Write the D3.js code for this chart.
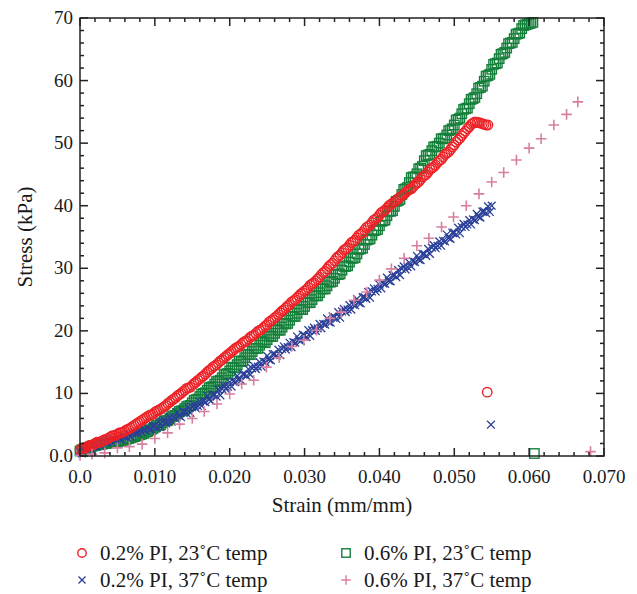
<!DOCTYPE html>
<html>
<head>
<meta charset="utf-8">
<script src="https://cdn.jsdelivr.net/npm/d3@7"></script>
<style>
	body { margin:0; background:#fff; }
	svg text { font-family:"Liberation Serif","Times New Roman",serif; fill:#1a1a1a; }
</style>
</head>
<body>
<svg id="svgelement" width="637" height="594"></svg>
<script>
	// strain readings shared by the three densely sampled tests (mm/mm)
	var strainGrid = [0,0.00025,0.0005,0.00075,0.001,0.00125,0.0015,0.00175,0.002,0.00225,0.0025,0.00275,0.003,0.00325,0.0035,0.00375,0.004,0.00425,0.0045,0.00475,
		0.005,0.00525,0.0055,0.00575,0.006,0.00625,0.0065,0.00675,0.007,0.00725,0.0075,0.00775,0.008,0.00825,0.0085,0.00875,0.009,0.00925,0.0095,0.00975,
		0.01,0.01025,0.0105,0.01075,0.011,0.01125,0.0115,0.01175,0.012,0.01225,0.0125,0.01275,0.013,0.01325,0.0135,0.01375,0.014,0.01425,0.0145,0.01475,
		0.015,0.01525,0.0155,0.01575,0.016,0.01625,0.0165,0.01675,0.017,0.01725,0.0175,0.01775,0.018,0.01825,0.0185,0.01875,0.019,0.01925,0.0195,0.01975,
		0.02,0.02025,0.0205,0.02075,0.021,0.02125,0.0215,0.02175,0.022,0.02225,0.0225,0.02275,0.023,0.02325,0.0235,0.02375,0.024,0.02425,0.0245,0.02475,
		0.025,0.02525,0.0255,0.02575,0.026,0.02625,0.0265,0.02675,0.027,0.02725,0.0275,0.02775,0.028,0.02825,0.0285,0.02875,0.029,0.02925,0.0295,0.02975,
		0.03,0.03025,0.0305,0.03075,0.031,0.03125,0.0315,0.03175,0.032,0.03225,0.0325,0.03275,0.033,0.03325,0.0335,0.03375,0.034,0.03425,0.0345,0.03475,
		0.035,0.03525,0.0355,0.03575,0.036,0.03625,0.0365,0.03675,0.037,0.03725,0.0375,0.03775,0.038,0.03825,0.0385,0.03875,0.039,0.03925,0.0395,0.03975,
		0.04,0.04025,0.0405,0.04075,0.041,0.04125,0.0415,0.04175,0.042,0.04225,0.0425,0.04275,0.043,0.04325,0.0435,0.04375,0.044,0.04425,0.0445,0.04475,
		0.045,0.04525,0.0455,0.04575,0.046,0.04625,0.0465,0.04675,0.047,0.04725,0.0475,0.04775,0.048,0.04825,0.0485,0.04875,0.049,0.04925,0.0495,0.04975,
		0.05,0.05025,0.0505,0.05075,0.051,0.05125,0.0515,0.05175,0.052,0.05225,0.0525,0.05275,0.053,0.05325,0.0535,0.05375,0.054,0.05425,0.0545,0.05475,
		0.055,0.05525,0.0555,0.05575,0.056,0.05625,0.0565,0.05675,0.057,0.05725,0.0575,0.05775,0.058,0.05825,0.0585,0.05875,0.059,0.05925,0.0595,0.05975,
		0.06,0.06025,0.0605];

	// 0.2% PI, 23C (red circles), stress in kPa along strainGrid
	var stressRed = [1.0,1.2,1.25,1.3,1.5,1.7,1.75,1.8,2.0,2.2,2.13,2.3,2.4,2.6,2.65,2.8,3.0,3.2,3.25,3.3,3.5,3.7,3.75,3.8,4.0,4.2,4.3,4.5,4.7,4.9,5.1,5.3,5.5,5.7,5.9,6.1,6.3,6.5,6.6,6.7,
		7.0,7.2,7.3,7.5,7.7,7.9,8.1,8.4,8.6,8.9,9.1,9.3,9.6,9.8,10.0,10.3,10.5,10.8,10.9,11.0,11.3,11.6,11.8,12.1,12.3,12.6,12.8,13.1,13.4,13.7,13.9,14.2,14.4,14.6,14.9,15.2,15.4,15.7,15.9,16.2,
		16.4,16.7,16.9,17.2,17.4,17.5,17.8,18.1,18.3,18.4,18.7,19.0,19.2,19.3,19.6,19.9,20.1,20.2,20.5,20.8,21.0,21.4,21.6,21.8,22.1,22.3,22.6,22.9,23.2,23.4,23.7,24.0,24.2,24.6,24.8,25.0,25.3,25.6,25.9,26.1,
		26.4,26.6,26.9,27.3,27.5,27.7,28.0,28.3,28.6,29.0,29.3,29.5,29.9,30.3,30.6,30.8,31.2,31.6,31.9,32.1,32.5,32.9,33.1,33.3,33.7,34.1,34.3,34.5,34.9,35.3,35.5,35.7,36.1,36.5,36.7,36.9,37.3,37.7,37.9,38.1,
		38.5,38.9,39.1,39.3,39.6,40.0,40.2,40.4,40.7,40.8,41.1,41.4,41.6,41.8,42.1,42.4,42.6,42.7,43.0,43.4,43.6,43.8,44.2,44.6,44.8,45.0,45.4,45.8,46.0,46.2,46.5,46.9,47.2,47.4,47.8,48.2,48.4,48.6,49.0,49.4,
		49.7,50.2,50.5,50.8,51.2,51.6,51.9,52.3,52.6,53.0,53.2,53.4,53.3,53.3,53.2,53.1,53.0,52.9,52.9];

	// 0.6% PI, 23C (green squares)
	var stressGreen = [0.8,1.0,1.1,1.2,1.3,1.4,1.5,1.6,1.7,1.8,1.8,1.9,1.9,2.0,2.0,2.1,2.1,2.2,2.2,2.2,2.3,2.4,2.4,2.5,2.6,2.7,2.8,2.9,3.0,3.1,3.2,3.3,3.4,3.5,3.6,3.8,3.9,4.1,4.2,4.4,
		4.6,4.9,4.9,5.0,5.3,5.6,5.6,5.7,6.0,6.3,6.4,6.5,6.8,7.1,7.2,7.3,7.6,7.9,8.0,8.1,8.5,8.9,9.0,9.1,9.5,9.9,10.0,10.1,10.5,10.9,11.0,11.1,11.5,11.9,12.0,12.1,12.5,13.0,13.1,13.2,
		13.6,14.2,14.1,14.1,14.6,15.2,15.1,15.2,15.7,16.2,16.2,16.2,16.7,17.2,17.2,17.2,17.7,18.3,18.2,18.1,18.6,19.2,19.1,19.1,19.6,20.2,20.1,20.1,20.6,21.2,21.1,21.2,21.7,22.3,22.3,22.3,22.8,23.4,23.4,23.4,
		23.9,24.5,24.5,24.5,25.0,25.6,25.6,25.6,26.1,26.7,26.7,26.7,27.2,27.8,27.8,27.9,28.4,29.0,29.0,29.1,29.7,30.3,30.3,30.4,31.0,31.6,31.6,31.7,32.3,33.0,33.1,33.2,33.8,34.5,34.6,34.7,35.3,36.0,36.1,36.2,
		36.8,37.5,37.6,37.7,38.4,39.1,39.1,39.2,39.9,40.7,40.8,41.0,41.8,42.6,42.7,42.9,43.7,44.5,44.6,44.6,45.1,45.9,46.0,46.3,47.2,48.0,48.1,48.2,48.8,49.4,49.4,49.5,50.0,50.7,50.7,50.8,51.3,52.0,52.1,52.3,
		52.9,53.7,53.8,54.0,54.7,55.4,55.5,55.6,56.3,57.0,57.1,57.3,57.9,58.8,58.9,59.1,59.9,60.7,60.8,61.0,61.8,62.6,62.7,62.8,63.5,64.2,64.3,64.5,65.2,65.9,66.0,66.1,66.7,67.4,67.5,67.6,68.3,68.8,68.9,69.0,
		69.1,69.2,69.3];

	// 0.2% PI, 37C (blue crosses)
	var stressBlue = [0.7,0.4,0.9,0.8,1.3,1.1,1.0,1.6,1.6,1.5,2.0,1.6,2.1,2.3,2.1,2.2,2.6,2.2,2.6,2.5,3.0,2.7,2.6,3.2,3.1,3.0,3.5,3.1,3.6,3.8,3.6,3.7,4.1,3.8,4.2,4.1,4.6,4.3,4.2,4.8,
		4.9,4.5,5.5,4.6,5.5,5.8,5.2,5.5,6.2,5.5,6.2,6.0,7.0,6.4,6.2,7.2,7.1,6.8,7.8,6.9,7.8,8.2,7.6,8.0,8.7,8.0,8.7,8.6,9.6,9.0,8.8,9.8,9.8,9.5,10.6,9.7,10.7,11.2,10.7,11.1,
		11.8,11.1,11.9,11.8,12.8,12.2,12.1,13.1,13.1,12.8,13.9,13.0,14.0,14.4,13.9,14.3,15.0,14.3,15.1,15.0,16.0,15.4,15.3,16.3,16.3,16.0,17.0,16.1,17.1,17.5,17.0,17.4,18.1,17.4,18.2,18.1,19.1,18.5,18.4,19.4,
		19.3,19.0,20.1,19.2,20.1,20.5,20.0,20.4,21.1,20.4,21.1,21.0,22.0,21.4,21.3,22.3,22.2,21.9,23.0,22.1,23.1,23.5,23.0,23.4,24.1,23.4,24.2,24.1,25.1,24.5,24.4,25.4,25.4,25.1,26.2,25.3,26.3,26.8,26.3,26.7,
		27.4,26.8,27.6,27.5,28.5,28.0,27.9,28.9,28.9,28.6,29.7,28.9,29.9,30.3,29.8,30.2,30.9,30.3,31.1,31.0,32.0,31.4,31.3,32.3,32.3,32.0,33.1,32.3,33.3,33.7,33.2,33.6,34.3,33.6,34.4,34.3,35.4,34.8,34.7,35.7,
		35.7,35.4,36.5,35.6,36.6,37.1,36.6,37.0,37.7,37.0,37.8,37.7,38.7,38.2,38.1,39.1,39.1,38.8,39.9,39.0,40.0];

	// stray last readings of the three dense tests
	var strayStrain = {red:0.0544, green:0.0607, blue:0.0549};
	var strayStress = {red:10.2, green:0.4, blue:5.0};

	// 0.6% PI, 37C (pink plus), sparse readings; last one is the stray point
	var strainPink = [0.0000,0.0016,0.0033,0.0050,0.0066,0.0083,0.0100,0.0117,0.0133,0.0150,0.0166,0.0183,0.0200,0.0216,0.0232,0.0249,0.0266,0.0283,0.0299,0.0316,
		0.0334,0.0349,0.0366,0.0383,0.0400,0.0416,0.0433,0.0450,0.0466,0.0483,0.0499,0.0516,0.0533,0.0550,0.0566,0.0583,0.0600,0.0616,0.0633,0.0650,
		0.0665,0.0682];
	var stressPink = [0.1,0.3,0.5,1.3,1.5,1.9,2.8,3.7,5.1,6.0,7.1,8.3,9.9,11.5,12.1,14.2,15.7,17.5,18.5,20.1,
		22.0,23.0,24.9,26.2,28.1,29.9,31.6,33.6,34.8,36.6,38.2,40.0,41.9,43.8,45.3,47.3,49.2,50.7,52.9,54.6,
		56.6,0.7];

	var xTicks = [0,0.01,0.02,0.03,0.04,0.05,0.06,0.07];
	var xTickLabels = ["0.0","0.010","0.020","0.030","0.040","0.050","0.060","0.070"];
	var yTicks = [0,10,20,30,40,50,60,70];
	var yTickLabels = ["0.0","10","20","30","40","50","60","70"];
	var seriesNames = ["0.2% PI, 23\u02DAC temp","0.2% PI, 37\u02DAC temp","0.6% PI, 23\u02DAC temp","0.6% PI, 37\u02DAC temp"];

	var plotL = 80, plotR = 604, plotT = 18, plotB = 456;
	var x = d3.scaleLinear().domain([0,0.07]).range([plotL,plotR]);
	var y = d3.scaleLinear().domain([0,70]).range([plotB,plotT]);
	var svg = d3.select("#svgelement");

	function onGrid(vals, key) {
		var pts = vals.map(function(v,i){ return [strainGrid[i],v]; });
		pts.push([strayStrain[key],strayStress[key]]);
		return pts;
	}

	// marker shapes
	var shapes = {
		circle: function(g,s){ g.append("circle").attr("r",4.7*s).attr("fill","none"); },
		square: function(g,s){ g.append("rect").attr("x",-4.7*s).attr("y",-4.7*s).attr("width",9.4*s).attr("height",9.4*s).attr("fill","none"); },
		times: function(g,s){ var a=3.9*s; g.append("path").attr("d","M"+(-a)+","+(-a)+"L"+a+","+a+"M"+(-a)+","+a+"L"+a+","+(-a)); },
		plus: function(g,s){ var a=5.3*s; g.append("path").attr("d","M"+(-a)+",0L"+a+",0M0,"+(-a)+"L0,"+a); }
	};

	var series = [
		{data:onGrid(stressGreen,"green"), shape:"square", color:"#15803b", width:1.4},
		{data:onGrid(stressBlue,"blue"), shape:"times", color:"#2a3f98", width:1.3},
		{data:onGrid(stressRed,"red"), shape:"circle", color:"#ec2227", width:1.4},
		{data:strainPink.map(function(v,i){ return [v,stressPink[i]]; }), shape:"plus", color:"#d87f9f", width:1.6}
	];

	series.forEach(function(s) {
		var pts = svg.append("g").selectAll("g")
			.data(s.data)
			.enter()
			.append("g")
			.attr("transform",function(d){ return "translate("+x(d[0])+","+y(d[1])+")"; })
			.attr("stroke",s.color)
			.attr("stroke-width",s.width);
		pts.each(function(){ shapes[s.shape](d3.select(this),1); });
	});

	// frame with inward ticks on all four sides
	var minorX = d3.range(0,0.0701,0.002), minorY = d3.range(0,70.1,2);
	var axisG = svg.append("g").attr("stroke","#222").attr("stroke-width",1.5);
	axisG.append("rect").attr("x",plotL).attr("y",plotT).attr("width",plotR-plotL).attr("height",plotB-plotT).attr("fill","none");
	minorX.forEach(function(v,i) {
		var L = (i%5==0) ? 8 : 4;
		axisG.append("line").attr("x1",x(v)).attr("x2",x(v)).attr("y1",plotB).attr("y2",plotB-L);
		axisG.append("line").attr("x1",x(v)).attr("x2",x(v)).attr("y1",plotT).attr("y2",plotT+L);
	});
	minorY.forEach(function(v,i) {
		var L = (i%5==0) ? 8 : 4;
		axisG.append("line").attr("y1",y(v)).attr("y2",y(v)).attr("x1",plotL).attr("x2",plotL+L);
		axisG.append("line").attr("y1",y(v)).attr("y2",y(v)).attr("x1",plotR).attr("x2",plotR-L);
	});

	svg.append("g").selectAll("text")
		.data(xTicks)
		.enter()
		.append("text")
		.attr("x",function(d){ return x(d); })
		.attr("y",plotB+27)
		.attr("text-anchor","middle")
		.attr("font-size",19)
		.text(function(d,i){ return xTickLabels[i]; });

	svg.append("g").selectAll("text")
		.data(yTicks)
		.enter()
		.append("text")
		.attr("x",plotL-7)
		.attr("y",function(d){ return y(d)+6; })
		.attr("text-anchor","end")
		.attr("font-size",19)
		.text(function(d,i){ return yTickLabels[i]; });

	svg.append("text")
		.attr("x",(plotL+plotR)/2)
		.attr("y",512)
		.attr("text-anchor","middle")
		.attr("font-size",21)
		.text("Strain (mm/mm)");

	svg.append("text")
		.attr("transform","translate(32,"+((plotT+plotB)/2)+") rotate(-90)")
		.attr("text-anchor","middle")
		.attr("font-size",21)
		.text("Stress (kPa)");

	// legend, two columns
	var legendShapes = [["circle","#ec2227",1.4],["times","#2a3f98",1.3],["square","#15803b",1.4],["plus","#d87f9f",1.4]];
	var legendPos = [[82,553],[82,580],[346,553],[346,580]];
	seriesNames.forEach(function(name,i) {
		var g = svg.append("g").attr("transform","translate("+legendPos[i][0]+","+legendPos[i][1]+")");
		var m = g.append("g").attr("stroke",legendShapes[i][1]).attr("stroke-width",legendShapes[i][2]);
		shapes[legendShapes[i][0]](m,0.9);
		g.append("text").attr("x",18).attr("y",7).attr("font-size",21).text(name);
	});
</script>
</body>
</html>
